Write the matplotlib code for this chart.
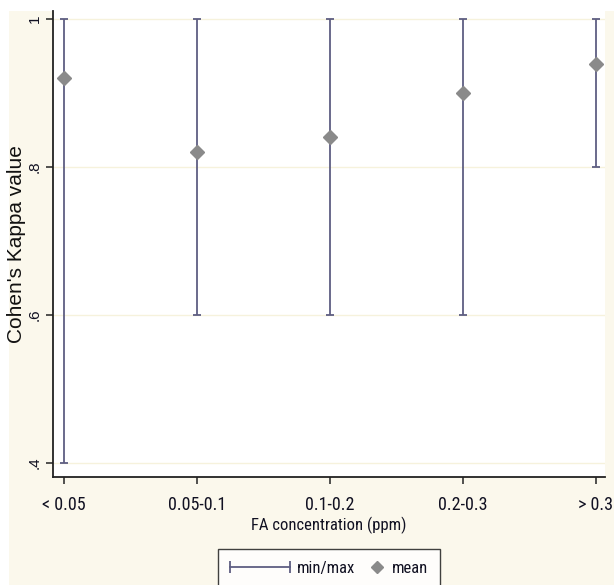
import matplotlib
matplotlib.use("Agg")
import matplotlib.pyplot as plt
from matplotlib import font_manager
from matplotlib.lines import Line2D
from matplotlib.patches import Rectangle
from matplotlib.legend_handler import HandlerLine2D

categories = ["< 0.05", "0.05-0.1", "0.1-0.2", "0.2-0.3", "> 0.3"]
mean_vals = [0.92, 0.82, 0.84, 0.90, 0.94]
min_vals = [0.40, 0.60, 0.60, 0.60, 0.80]
max_vals = [1.00, 1.00, 1.00, 1.00, 1.00]
yticks = [0.4, 0.6, 0.8, 1.0]
ytick_labels = [".4", ".6", ".8", "1"]

names = {f.name for f in font_manager.fontManager.ttflist}
narrow_family = "DejaVu Sans"
for cand in ["Liberation Sans Narrow", "Roboto Condensed", "Open Sans Condensed",
             "Roboto"]:
    if cand in names:
        narrow_family = cand
        break
narrow = dict(family=narrow_family)
regular = "Liberation Sans" if "Liberation Sans" in names else "DejaVu Sans"


class RightMarkerHandler(HandlerLine2D):
    def get_xdata(self, legend, xdescent, ydescent, width, height, fontsize):
        xm = [width - xdescent - 0.45 * fontsize]
        return xm, xm


W, H = 614, 585
fig = plt.figure(figsize=(W / 100, H / 100), dpi=100, facecolor="white")
fig.patches.append(Rectangle((9 / W, 0), 1 - 9 / W, (H - 11) / H,
                             transform=fig.transFigure, facecolor="#fbf8ec",
                             edgecolor="none", zorder=-10))

ax = fig.add_axes([53 / W, (H - 477) / H, (605 - 53) / W, (477 - 11) / H])
ax.set_facecolor("white")

x = list(range(len(categories)))
lower = [m - lo for m, lo in zip(mean_vals, min_vals)]
upper = [hi - m for m, hi in zip(mean_vals, max_vals)]
bar_color = "#5e5e82"
ax.errorbar(x, mean_vals, yerr=[lower, upper], fmt="none", ecolor=bar_color,
            elinewidth=1.3, capsize=3, capthick=1.3, zorder=3)
ax.plot(x, mean_vals, linestyle="none", marker="D", markersize=6.8,
        color="#8a8a8a", markeredgecolor="#8a8a8a", zorder=4)

ax.set_xlim(-0.083, 4.07)
ax.set_ylim(0.381, 1.011)
ax.set_yticks(yticks)
ax.set_yticklabels(ytick_labels, rotation=90, va="center", fontsize=11,
                   family=regular)
ax.set_xticks(x)
ax.set_xticklabels(categories, fontsize=13, **narrow)
ax.yaxis.grid(True, color="#f6f2dc", linewidth=1.0)
ax.set_axisbelow(True)
ax.tick_params(axis="both", direction="out", length=5, width=1.1,
               color="#222222", labelcolor="#111122")
ax.tick_params(axis="x", pad=9)
ax.tick_params(axis="y", pad=3)
for s in ["top", "right"]:
    ax.spines[s].set_visible(False)
for s in ["left", "bottom"]:
    ax.spines[s].set_linewidth(1.3)
    ax.spines[s].set_color("#222222")

ax.set_xlabel("FA concentration (ppm)", fontsize=12, color="#111122",
              labelpad=2, **narrow)
ax.set_ylabel("Cohen's Kappa value", fontsize=15, family=regular,
              color="#111111", labelpad=1)

h_bar = Line2D([0, 1], [0, 0], color=bar_color, linewidth=1.3, marker="|",
               markersize=8, markeredgewidth=1.3)
h_mean = Line2D([0], [0], linestyle="none", marker="D", markersize=6.5,
                color="#8a8a8a")
leg = fig.legend([h_bar, h_mean], ["min/max", "mean"],
                 loc="upper center", bbox_to_anchor=(329 / W, 1 - 549 / H),
                 ncol=2, frameon=True, fancybox=False,
                 prop=dict(size=12, **narrow), handlelength=3.6,
                 columnspacing=-1.85, handletextpad=0.45, borderpad=0.7,
                 borderaxespad=0,
                 handler_map={h_bar: HandlerLine2D(numpoints=2, marker_pad=0),
                              h_mean: RightMarkerHandler()})
leg.get_frame().set_edgecolor("#111111")
leg.get_frame().set_linewidth(1.0)
for t in leg.get_texts():
    t.set_color("#111122")

fig.savefig("out.png", dpi=100, facecolor=fig.get_facecolor())
